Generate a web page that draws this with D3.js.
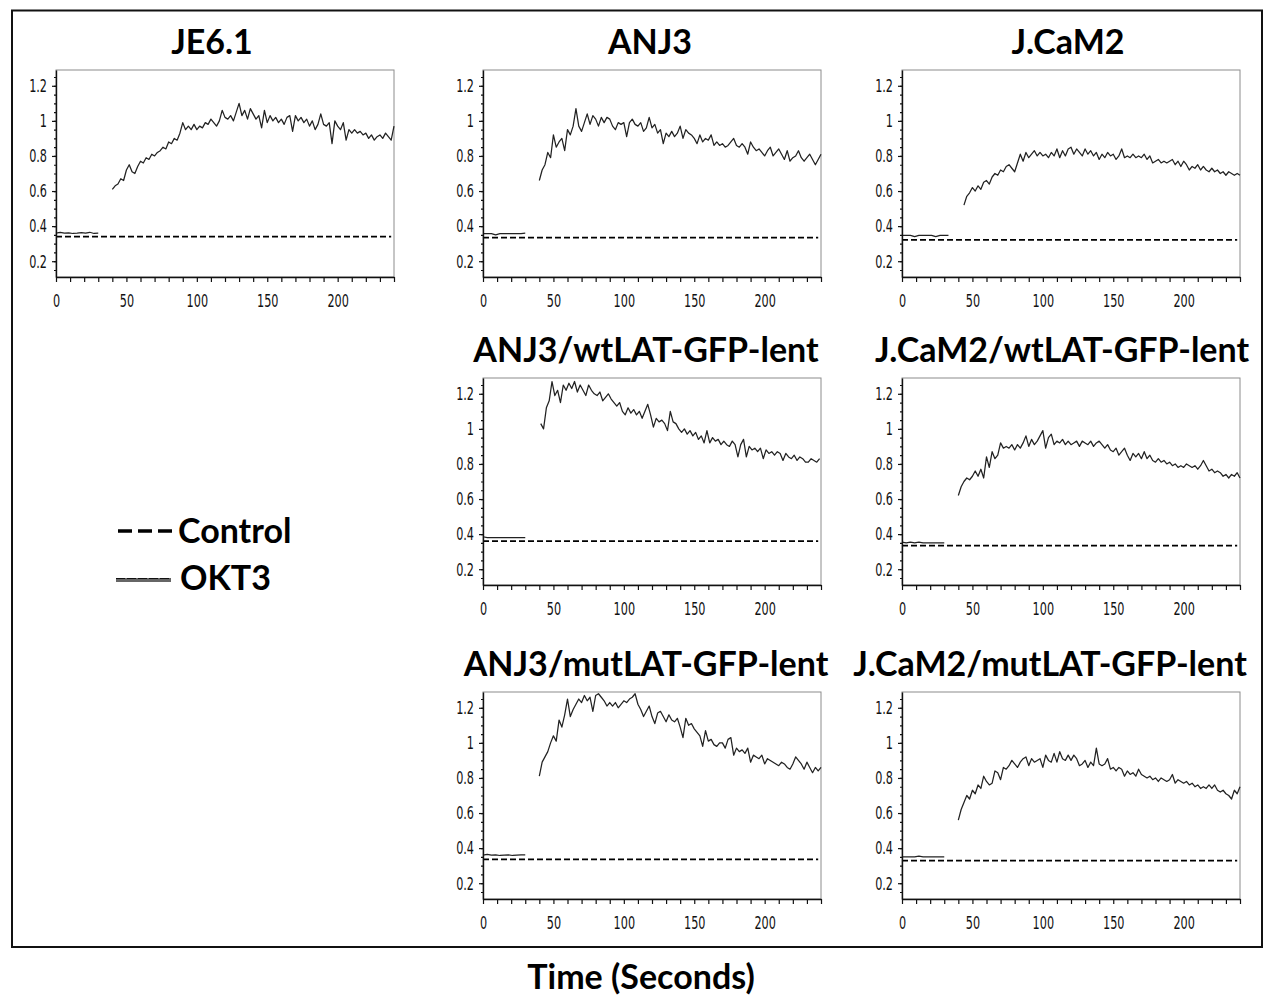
<!DOCTYPE html>
<html>
<head>
<meta charset="utf-8">
<script src="https://cdn.jsdelivr.net/npm/d3@7"></script>
<style>
  body { margin: 0; background: #fff; }
  .tick text { font-family: "Liberation Sans Narrow", "Arial Narrow", "DejaVu Sans Condensed", sans-serif; font-size: 12.5px; fill: #111; }
  .big { font-family: Lato, "Open Sans", sans-serif; font-weight: bold; font-size: 34px; fill: #000; }
</style>
</head>
<body>
<svg id="fig" width="1274" height="1003"></svg>
<script>
// panel titles, in drawing order
const titles = ["JE6.1", "ANJ3", "J.CaM2",
  "ANJ3/wtLAT-GFP-lent", "J.CaM2/wtLAT-GFP-lent",
  "ANJ3/mutLAT-GFP-lent", "J.CaM2/mutLAT-GFP-lent"]

// Control (dashed) level per panel
const controlLevel = [0.34, 0.334, 0.322, 0.36, 0.334, 0.336, 0.329]

// OKT3 before stimulation, sampled every 3 s from t = 0
const baseStep = 3
const je61Base   = [0.36, 0.365, 0.36, 0.362, 0.358, 0.36, 0.363, 0.36, 0.365, 0.358, 0.36]
const anj3Base   = [0.357, 0.357, 0.357, 0.35, 0.357, 0.357, 0.357, 0.357, 0.357, 0.357, 0.36]
const jcamBase   = [0.347, 0.347, 0.347, 0.34, 0.347, 0.347, 0.347, 0.347, 0.34, 0.347, 0.347, 0.347]
const anj3wtBase = [0.385, 0.38, 0.38, 0.38, 0.38, 0.38, 0.38, 0.38, 0.38, 0.38, 0.38]
const jcamwtBase = [0.355, 0.35, 0.355, 0.35, 0.355, 0.35, 0.35, 0.35, 0.35, 0.35, 0.35]
const anj3mtBase = [0.36, 0.365, 0.36, 0.362, 0.358, 0.36, 0.362, 0.358, 0.36, 0.362, 0.362]
const jcammtBase = [0.35, 0.35, 0.35, 0.35, 0.355, 0.35, 0.35, 0.35, 0.35, 0.35, 0.35]

// OKT3 after stimulation, sampled every 2 s from riseStart
const riseStep = 2
const riseStart = [40, 40, 44, 41, 40, 40, 40]
const je61Rise = [0.61,0.63,0.64,0.67,0.66,0.72,0.75,0.71,0.70,0.74,0.77,0.76,0.79,0.78,0.81,0.80,0.82,0.83,0.85,0.84,
  0.88,0.87,0.90,0.89,0.93,0.99,0.95,0.97,0.95,0.98,0.95,0.97,0.96,0.99,0.98,1.01,0.99,0.97,1.00,1.06,
  1.02,1.01,1.03,1.00,1.05,1.10,1.03,1.06,1.01,1.07,1.04,1.01,1.03,0.96,1.06,0.99,1.03,1.00,1.02,0.99,
  1.01,0.98,1.02,1.03,0.94,1.03,1.00,1.02,0.99,1.01,0.97,1.00,0.95,0.98,1.04,0.98,0.97,0.99,0.87,1.00,
  0.97,0.95,0.99,0.89,0.95,0.93,0.95,0.93,0.94,0.92,0.93,0.90,0.92,0.89,0.91,0.92,0.90,0.93,0.91,0.89,0.97]
const anj3Rise = [0.66,0.72,0.75,0.82,0.79,0.92,0.85,0.88,0.90,0.83,0.95,0.92,0.97,1.07,0.97,0.94,0.99,1.04,0.98,1.03,
  1.01,0.97,1.02,0.99,1.02,1.01,0.97,0.95,0.99,0.98,0.99,0.91,0.99,1.01,0.98,0.97,0.99,0.94,0.96,1.02,
  0.96,0.98,0.93,0.95,0.87,0.93,0.91,0.94,0.91,0.93,0.97,0.90,0.95,0.93,0.92,0.90,0.87,0.92,0.88,0.90,
  0.89,0.92,0.86,0.88,0.86,0.87,0.85,0.86,0.88,0.90,0.86,0.85,0.87,0.85,0.81,0.88,0.85,0.83,0.84,0.82,
  0.80,0.83,0.85,0.80,0.82,0.84,0.81,0.78,0.83,0.77,0.79,0.80,0.83,0.79,0.77,0.79,0.81,0.78,0.75,0.78,0.81]
const jcamRise = [0.52,0.57,0.59,0.62,0.60,0.63,0.61,0.65,0.66,0.64,0.68,0.70,0.69,0.72,0.71,0.74,0.75,0.73,0.71,0.76,
  0.81,0.77,0.82,0.79,0.81,0.83,0.80,0.82,0.80,0.81,0.79,0.82,0.80,0.84,0.79,0.83,0.80,0.84,0.85,0.81,
  0.84,0.82,0.80,0.84,0.81,0.83,0.80,0.82,0.78,0.81,0.79,0.82,0.80,0.81,0.78,0.80,0.84,0.79,0.80,0.79,
  0.81,0.79,0.80,0.79,0.81,0.78,0.80,0.76,0.77,0.78,0.76,0.77,0.76,0.77,0.78,0.75,0.77,0.74,0.77,0.75,
  0.72,0.74,0.73,0.75,0.72,0.74,0.72,0.71,0.73,0.71,0.72,0.70,0.71,0.69,0.71,0.70,0.69,0.70,0.69]
const anj3wtRise = [1.03,1.00,1.12,1.16,1.27,1.19,1.22,1.15,1.25,1.22,1.26,1.23,1.27,1.21,1.25,1.22,1.19,1.25,1.22,1.20,
  1.19,1.21,1.16,1.18,1.20,1.17,1.15,1.13,1.15,1.10,1.08,1.12,1.09,1.11,1.08,1.10,1.06,1.10,1.14,1.08,
  1.01,1.06,1.04,1.05,1.03,0.99,1.10,1.04,1.03,1.00,0.98,1.00,0.97,0.99,0.96,0.98,0.94,0.96,0.92,0.99,
  0.92,0.95,0.93,0.94,0.91,0.93,0.91,0.90,0.93,0.91,0.84,0.91,0.94,0.84,0.90,0.88,0.89,0.87,0.89,0.83,
  0.88,0.86,0.87,0.85,0.87,0.86,0.82,0.86,0.84,0.83,0.85,0.82,0.84,0.83,0.81,0.81,0.83,0.82,0.81,0.83]
const jcamwtRise = [0.62,0.67,0.70,0.72,0.71,0.73,0.76,0.73,0.77,0.72,0.84,0.78,0.87,0.83,0.85,0.92,0.89,0.90,0.89,0.91,
  0.88,0.91,0.89,0.92,0.96,0.90,0.94,0.91,0.93,0.96,0.99,0.89,0.95,0.97,0.91,0.93,0.92,0.94,0.91,0.93,
  0.91,0.92,0.93,0.90,0.93,0.92,0.91,0.93,0.90,0.92,0.93,0.91,0.89,0.91,0.88,0.87,0.89,0.85,0.87,0.89,
  0.85,0.82,0.86,0.84,0.86,0.83,0.87,0.83,0.85,0.82,0.81,0.83,0.81,0.82,0.80,0.81,0.79,0.80,0.78,0.79,
  0.78,0.80,0.79,0.78,0.79,0.77,0.79,0.82,0.79,0.76,0.77,0.75,0.76,0.75,0.73,0.74,0.72,0.74,0.73,0.75,0.72]
const anj3mtRise = [0.81,0.89,0.92,0.95,1.00,1.04,1.01,1.13,1.09,1.16,1.25,1.15,1.19,1.22,1.25,1.23,1.27,1.24,1.26,1.18,
  1.27,1.28,1.26,1.24,1.21,1.23,1.21,1.23,1.20,1.22,1.24,1.23,1.25,1.26,1.28,1.22,1.19,1.15,1.18,1.21,
  1.15,1.11,1.17,1.18,1.15,1.12,1.16,1.13,1.12,1.14,1.09,1.03,1.14,1.10,1.11,1.08,1.06,1.04,0.98,1.07,
  1.01,1.02,0.99,0.98,1.00,1.00,0.97,1.02,1.03,0.93,0.97,0.95,0.96,0.94,0.97,0.89,0.93,0.92,0.91,0.93,
  0.88,0.91,0.90,0.89,0.88,0.87,0.89,0.88,0.86,0.85,0.88,0.92,0.90,0.88,0.85,0.89,0.86,0.83,0.86,0.84,0.86]
const jcammtRise = [0.56,0.62,0.66,0.70,0.68,0.73,0.71,0.76,0.74,0.81,0.78,0.76,0.77,0.84,0.83,0.79,0.86,0.85,0.87,0.90,
  0.88,0.86,0.89,0.91,0.92,0.87,0.91,0.89,0.90,0.91,0.86,0.93,0.90,0.89,0.94,0.89,0.95,0.91,0.90,0.93,
  0.90,0.93,0.91,0.87,0.88,0.90,0.86,0.89,0.87,0.97,0.88,0.87,0.88,0.91,0.85,0.86,0.84,0.86,0.85,0.81,
  0.84,0.82,0.83,0.81,0.85,0.82,0.81,0.80,0.81,0.79,0.80,0.78,0.80,0.79,0.78,0.79,0.82,0.77,0.79,0.78,
  0.77,0.78,0.76,0.77,0.75,0.76,0.74,0.75,0.74,0.76,0.74,0.76,0.73,0.72,0.73,0.71,0.70,0.68,0.73,0.71,0.75]

const baseSeries = [je61Base, anj3Base, jcamBase, anj3wtBase, jcamwtBase, anj3mtBase, jcammtBase]
const riseSeries = [je61Rise, anj3Rise, jcamRise, anj3wtRise, jcamwtRise, anj3mtRise, jcammtRise]

// axis ticks
const xTicks = d3.range(0, 241, 10)
const xLabels = [0, 50, 100, 150, 200]
const yTicks = [0.2, 0.4, 0.6, 0.8, 1, 1.2]
const yMinor = d3.range(0.15, 1.27, 0.05)
const xDomain = [0, 240]
const yDomain = [0.11, 1.29]
const controlEnd = 238

// layout
const panelW = 338, panelH = 207
const colX = [56, 483, 902]
const rowY = [70, 378, 692]
const grid = [[0, 0], [1, 0], [2, 0], [1, 1], [2, 1], [1, 2], [2, 2]]
const titleX = [212, 650, 1068, 646, 1062, 646, 1050]

const svg = d3.select("#fig")
svg.append("rect").attr("x", 12).attr("y", 10.5).attr("width", 1250).attr("height", 936.5)
  .attr("fill", "none").attr("stroke", "#111").attr("stroke-width", 2)

const x = d3.scaleLinear().domain(xDomain).range([0, panelW])
const y = d3.scaleLinear().domain(yDomain).range([panelH, 0])
const line = d3.line().x(d => x(d[0])).y(d => y(d[1]))

function drawPanel(i) {
  let [c, r] = grid[i]
  let g = svg.append("g").attr("transform", `translate(${colX[c]},${rowY[r]})`)

  svg.append("text").attr("class", "big").attr("text-anchor", "middle")
    .attr("x", titleX[i]).attr("y", rowY[r] - 16).text(titles[i])

  g.append("rect").attr("width", panelW).attr("height", panelH)
    .attr("fill", "none").attr("stroke", "#8c8c8c").attr("stroke-width", 1)

  // control
  g.append("path").datum([[0, controlLevel[i]], [controlEnd, controlLevel[i]]])
    .attr("d", line).attr("fill", "none").attr("stroke", "#000")
    .attr("stroke-width", 1.8).attr("stroke-dasharray", "6,3")

  // OKT3
  let base = baseSeries[i].map((v, k) => [k * baseStep, v])
  let rise = riseSeries[i].map((v, k) => [riseStart[i] + k * riseStep, v])
  ;[base, rise].forEach(s => {
    g.append("path").datum(s).attr("d", line).attr("fill", "none")
      .attr("stroke", "#222").attr("stroke-width", 1.25).attr("stroke-linejoin", "round")
  })

  // axes
  let ya = g.append("g").call(d3.axisLeft(y).tickValues(yTicks).tickSize(4).tickPadding(5).tickSizeOuter(0)
    .tickFormat(d => d === 1 ? "1" : d3.format(".1f")(d)))
  g.append("g").call(d3.axisLeft(y).tickValues(yMinor).tickSize(2).tickFormat("")).select(".domain").remove()
  let xa = g.append("g").attr("transform", `translate(0,${panelH})`)
    .call(d3.axisBottom(x).tickValues(xTicks).tickSize(5).tickSizeOuter(0)
      .tickFormat(d => xLabels.includes(d) ? d : ""))
  ya.selectAll("text").attr("transform", "scale(1,1.45)")
  xa.selectAll("text").attr("y", 11.5).attr("transform", "scale(1,1.45)")
  g.selectAll(".domain").attr("stroke", "#111").attr("stroke-width", 1.4)
  g.selectAll(".tick line").attr("stroke", "#111").attr("stroke-width", 1.2)
}
titles.forEach((t, i) => drawPanel(i))

// legend
let lg = svg.append("g")
lg.append("line").attr("x1", 118).attr("x2", 172).attr("y1", 531).attr("y2", 531)
  .attr("stroke", "#000").attr("stroke-width", 3.5).attr("stroke-dasharray", "14,6")
lg.append("text").attr("class", "big").attr("x", 178).attr("y", 543).text("Control")
lg.append("line").attr("x1", 116).attr("x2", 171).attr("y1", 580).attr("y2", 580)
  .attr("stroke", "#666").attr("stroke-width", 4)
lg.append("line").attr("x1", 116).attr("x2", 171).attr("y1", 578.5).attr("y2", 578.5)
  .attr("stroke", "#111").attr("stroke-width", 1.2).attr("stroke-dasharray", "9,2")
lg.append("text").attr("class", "big").attr("x", 180).attr("y", 590).text("OKT3")

svg.append("text").attr("class", "big").attr("text-anchor", "middle")
  .attr("x", 641).attr("y", 989).text("Time (Seconds)")
</script>
</body>
</html>
